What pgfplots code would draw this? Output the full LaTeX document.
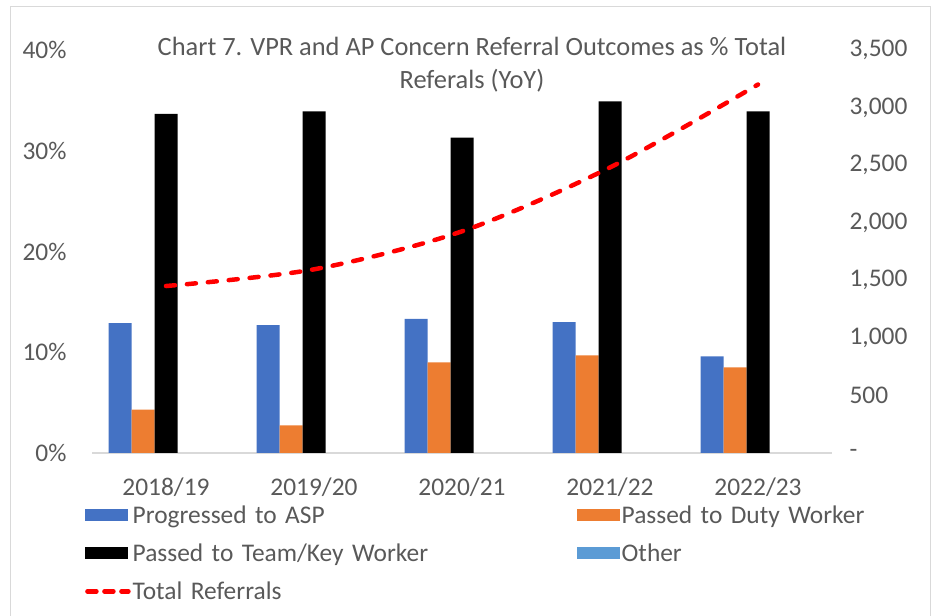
\documentclass[border=0pt]{standalone}
\usepackage{pgfplots}
\pgfplotsset{compat=1.18}
\usepackage{fontspec}
\setmainfont{Carlito}
\definecolor{aspblue}{HTML}{4472C4}
\definecolor{dutyorange}{HTML}{ED7D31}
\definecolor{otherblue}{HTML}{5B9BD5}
\definecolor{txtgray}{HTML}{595959}
\definecolor{axgray}{HTML}{D9D9D9}
\newcommand{\ff}{\fontsize{25.5}{30}\selectfont}

\begin{document}
\begin{tikzpicture}[x=1bp,y=1bp]
\path[use as bounding box] (0,0) rectangle (934,616);
\draw[axgray, line width=1bp] (10,-5) -- (10,609) -- (930,609) -- (930,-5);

\begin{axis}[
  at={(92bp,163bp)}, anchor=south west,
  scale only axis, width=740bp, height=403bp,
  xmin=-0.5, xmax=4.5, ymin=0, ymax=40,
  axis x line=bottom, axis y line=left,
  y axis line style={draw=none},
  x axis line style={draw=axgray, line width=1.2bp, -},
  major tick length=0pt,
  xtick={0,1,2,3,4},
  xticklabels={2018/19,2019/20,2020/21,2021/22,2022/23},
  ytick={0,10,20,30,40},
  yticklabels={0\%,10\%,20\%,30\%,40\%},
  tick label style={font=\ff, text=txtgray},
  yticklabel style={xshift=-22bp},
  xticklabel style={yshift=-21bp},
  ybar, bar width=23bp,
  every axis plot/.append style={draw=none},
  legend columns=2,
  legend cell align=left,
  legend style={at={(-0.0135,-0.12)}, anchor=north west, draw=none, fill=none,
    font=\ff, text=txtgray, row sep=15bp,
    /tikz/column 2/.style={text width=442bp},
    /tikz/column 4/.style={text width=250bp}},
  legend image code/.code={\fill[#1] (0bp,-6bp) rectangle (43bp,6bp);},
]
\addplot[fill=aspblue, bar shift=-46bp] coordinates {(0,12.9) (1,12.7) (2,13.3) (3,13.0) (4,9.6)};
\addlegendentry{Progressed to ASP}
\addplot[fill=dutyorange, bar shift=-23bp] coordinates {(0,4.3) (1,2.75) (2,9.0) (3,9.7) (4,8.5)};
\addlegendentry{Passed to Duty Worker}
\addplot[fill=black, bar shift=0bp] coordinates {(0,33.65) (1,33.9) (2,31.3) (3,34.9) (4,33.9)};
\addlegendentry{Passed to Team/Key Worker}
\addlegendimage{fill=otherblue}
\addlegendentry{Other}
\addlegendimage{legend image code/.code={\draw[red, line width=4.5bp, line cap=round, dash pattern=on 9bp off 8bp] (2bp,0bp) -- (43bp,0bp);}}
\addlegendentry{Total Referrals}
\end{axis}

\begin{axis}[
  at={(92bp,163bp)}, anchor=south west,
  scale only axis, width=740bp, height=403bp,
  xmin=-0.5, xmax=4.5, ymin=0, ymax=3500,
  axis x line=none, axis y line=right,
  y axis line style={draw=none},
  major tick length=0pt,
  ytick={0,500,1000,1500,2000,2500,3000,3500},
  yticklabels={-,500,{1,000},{1,500},{2,000},{2,500},{3,000},{3,500}},
  tick label style={font=\ff, text=txtgray},
  yticklabel style={xshift=14bp},
]
\addplot[red, line width=4.5bp, line cap=round, dash pattern=on 9bp off 12bp, smooth]
  coordinates {(0,1450) (1,1595) (2,1925) (3,2480) (4,3200)};
\end{axis}

\node[font=\fontsize{26.5}{33}\selectfont, text=txtgray, align=center] at (472,551)
  {Chart 7. VPR and AP Concern Referral Outcomes as \% Total\\Referals (YoY)};
\end{tikzpicture}
\end{document}
